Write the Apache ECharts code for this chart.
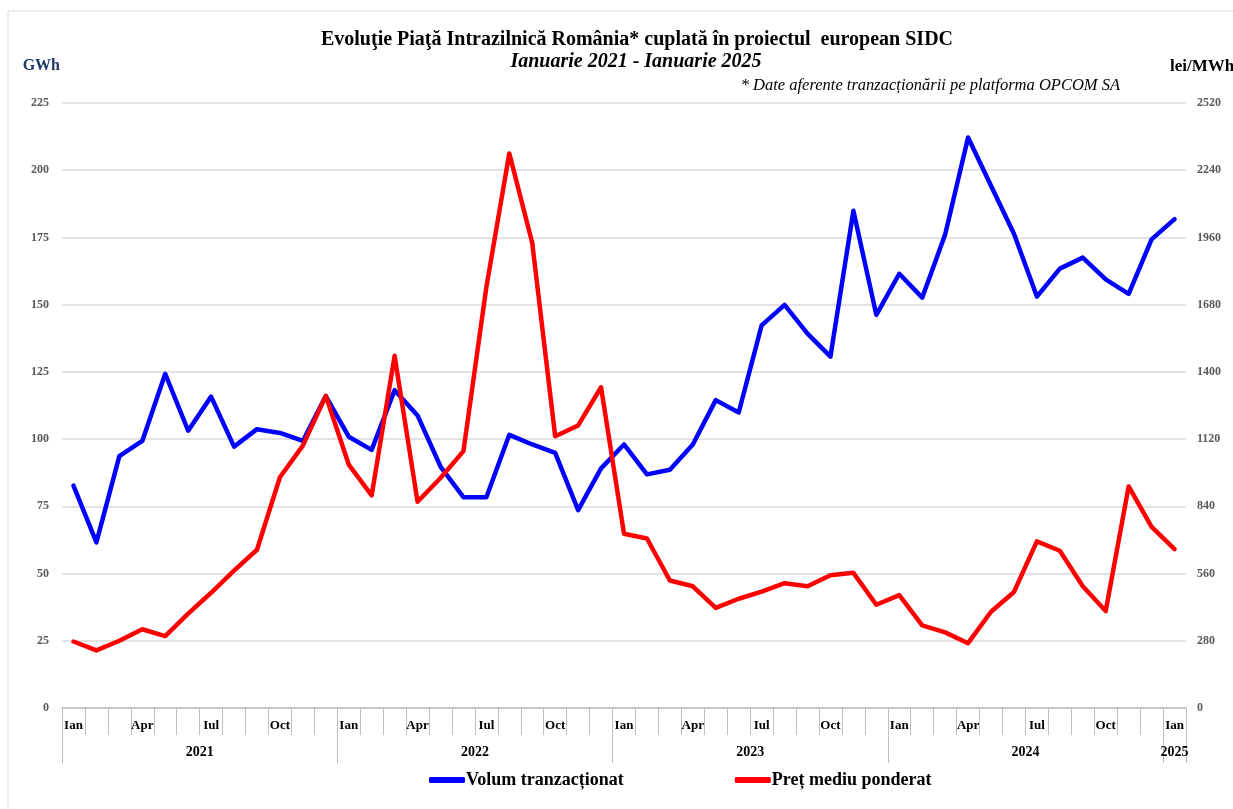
<!DOCTYPE html>
<html>
<head>
<meta charset="utf-8">
<script src="https://cdn.jsdelivr.net/npm/echarts@6/dist/echarts.min.js"></script>
<style>
  html, body { margin: 0; padding: 0; background: #fff; }
  #chart { width: 1233px; height: 809px; }
</style>
</head>
<body>
<div id="chart"></div>
<script>
// luni: Ianuarie 2021 - Ianuarie 2025
var luni = ['Ian', 'Feb', 'Mar', 'Apr', 'Mai', 'Iun', 'Iul', 'Aug', 'Sep', 'Oct', 'Nov', 'Dec'];
var ani = ['2021', '2022', '2023', '2024', '2025'];
var categorii = [];
for (var a = 0; a < 4; a++) {
    for (var m = 0; m < 12; m++) categorii.push(luni[m] + ' ' + ani[a]);
}
categorii.push('Ian 2025');

// Volum tranzactionat (GWh)
var volum = [
    82.7, 61.6, 93.7, 99.3, 124.3, 103.1, 115.8, 97.2, 103.7, 102.3, 99.3, 116.0,
    100.9, 96.0, 118.2, 108.8, 89.8, 78.4, 78.4, 101.6, 98.0, 94.9, 73.6, 89.1,
    98.0, 86.9, 88.6, 98.0, 114.5, 109.9, 142.3, 149.9, 139.2, 130.7, 184.9, 146.2,
    161.5, 152.6, 176.1, 212.2, 194.2, 176.4, 153.0, 163.4, 167.5, 159.4, 154.0, 174.3,
    181.8
];
// Pret mediu ponderat (lei/MWh)
var pret = [
    277, 240, 280, 328, 299, 393, 480, 572, 659, 961, 1093, 1300,
    1014, 886, 1467, 859, 958, 1070, 1753, 2310, 1937, 1132, 1177, 1336,
    726, 706, 531, 507, 417, 455, 485, 520, 507, 553, 563, 430,
    470, 344, 315, 270, 401, 483, 694, 655, 507, 404, 923, 754,
    662
];

var serif = 'Liberation Serif';

// axa anilor: pozitii la jumatate de luna (0..98)
var pozAni = [];
for (var i = 0; i <= 98; i++) pozAni.push(i);
var etichetaAn = {12: '2021', 36: '2022', 60: '2023', 84: '2024', 97: '2025'};
var liniiAn = {0: 1, 24: 1, 48: 1, 72: 1, 96: 1, 98: 1};

var myChart = echarts.init(document.getElementById('chart'));
myChart.setOption({
    animation: false,
    backgroundColor: '#fff',
    title: [{
        text: 'Evoluţie Piaţă Intrazilnică România* cuplată în proiectul  european SIDC',
        left: 632, top: 25, textAlign: 'center',
        textStyle: {fontFamily: serif, fontSize: 20, fontWeight: 'bold', color: '#000'}
    }, {
        text: 'Ianuarie 2021 - Ianuarie 2025',
        left: 631, top: 47, textAlign: 'center',
        textStyle: {fontFamily: serif, fontSize: 20, fontWeight: 'bold', fontStyle: 'italic', color: '#000'}
    }, {
        text: '* Date aferente tranzacționării pe platforma OPCOM SA',
        right: 108, top: 72,
        textStyle: {fontFamily: serif, fontSize: 16.5, fontWeight: 'normal', fontStyle: 'italic', color: '#000'}
    }],
    graphic: [{
        type: 'rect', silent: true,
        shape: {x: 8, y: 11, width: 1240, height: 820},
        style: {fill: 'none', stroke: '#d9d9d9', lineWidth: 1}
    }],
    legend: {
        bottom: 15, left: 424,
        itemGap: 111,
        itemWidth: 36, itemHeight: 6,
        icon: 'roundRect',
        textStyle: {fontFamily: serif, fontSize: 18, fontWeight: 'bold', color: '#000', padding: [0, 0, 0, -4]},
        data: ['Volum tranzacționat', 'Preț mediu ponderat']
    },
    grid: {left: 62, right: 47, top: 103, bottom: 101, outerBoundsMode: 'none'},
    xAxis: [{
        type: 'category',
        data: categorii,
        boundaryGap: true,
        axisLine: {lineStyle: {color: '#bfbfbf', width: 1.5}},
        axisTick: {show: true, interval: 0, length: 27, lineStyle: {color: '#bfbfbf'}},
        axisLabel: {
            interval: function (index) { return index % 3 === 0; },
            formatter: function (v) { return v.split(' ')[0]; },
            fontFamily: serif, fontSize: 13, fontWeight: 'bold', color: '#000', margin: 11
        }
    }, {
        type: 'category',
        data: pozAni,
        boundaryGap: false,
        position: 'bottom',
        axisLine: {show: false},
        axisTick: {
            length: 55,
            interval: function (index) { return liniiAn[index] === 1; },
            lineStyle: {color: '#bfbfbf'}
        },
        axisLabel: {
            interval: function (index) { return etichetaAn[index] !== undefined; },
            formatter: function (v) { return etichetaAn[v] || ''; },
            fontFamily: serif, fontSize: 14, fontWeight: 'bold', color: '#000', margin: 37
        }
    }],
    yAxis: [{
        type: 'value',
        min: 0, max: 225, interval: 25,
        name: 'GWh',
        nameGap: 29,
        nameTextStyle: {fontFamily: serif, fontSize: 16, fontWeight: 'bold', color: '#1f3864', align: 'right', padding: [0, 2, 0, 0]},
        axisLine: {show: false},
        axisTick: {show: false},
        splitLine: {lineStyle: {color: '#d9d9d9', width: 1.5}},
        axisLabel: {fontFamily: serif, fontSize: 12, fontWeight: 'bold', color: '#595959', margin: 13}
    }, {
        type: 'value',
        min: 0, max: 2520, interval: 280,
        name: 'lei/MWh',
        nameGap: 28,
        nameTextStyle: {fontFamily: serif, fontSize: 17, fontWeight: 'bold', color: '#000', align: 'left', padding: [0, 0, 0, -16]},
        axisLine: {show: false},
        axisTick: {show: false},
        splitLine: {show: false},
        axisLabel: {
            formatter: function (v) { return String(v); },
            fontFamily: serif, fontSize: 12, fontWeight: 'bold', color: '#595959', margin: 11
        }
    }],
    series: [{
        name: 'Volum tranzacționat',
        type: 'line',
        data: volum,
        yAxisIndex: 0,
        showSymbol: false,
        color: '#0000ff',
        lineStyle: {width: 4.5, color: '#0000ff', cap: 'round', join: 'round'}
    }, {
        name: 'Preț mediu ponderat',
        type: 'line',
        data: pret,
        yAxisIndex: 1,
        showSymbol: false,
        color: '#ff0000',
        lineStyle: {width: 4.5, color: '#ff0000', cap: 'round', join: 'round'}
    }]
});
</script>
</body>
</html>
